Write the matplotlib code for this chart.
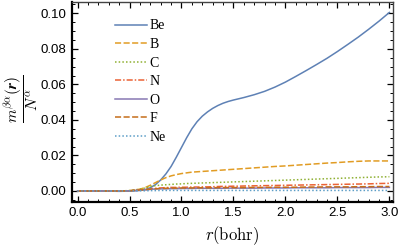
import matplotlib
matplotlib.use("Agg")
import matplotlib.pyplot as plt
from matplotlib.ticker import MultipleLocator, FormatStrFormatter

plt.rcParams["mathtext.fontset"] = "cm"
plt.rcParams["font.family"] = ["Liberation Sans", "DejaVu Sans"]

# radial grid (bohr), denser where Be rises fast
r = [0.0, 0.1, 0.2, 0.3, 0.4, 0.5, 0.6,
     0.65, 0.7, 0.75, 0.8, 0.85, 0.9, 0.95, 1.0, 1.05, 1.1,
     1.15, 1.2, 1.25, 1.3, 1.35, 1.4, 1.45, 1.5, 1.55, 1.6,
     1.7, 1.8, 1.9, 2.0, 2.1, 2.2, 2.3, 2.4, 2.5, 2.6, 2.7, 2.8, 2.9, 3.0]

be = [0.0, 0.0, 0.0, -0.0001, -0.0002, -0.0001, 0.0003,
      0.0008, 0.0018, 0.0036, 0.0062, 0.0096, 0.0138, 0.0190, 0.0245, 0.0300, 0.0350,
      0.0390, 0.0421, 0.0445, 0.0465, 0.0481, 0.0494, 0.0504, 0.0512, 0.0519, 0.0526,
      0.0542, 0.0561, 0.0585, 0.0613, 0.0645, 0.0678, 0.0712, 0.0747, 0.0785, 0.0825, 0.0866, 0.0910, 0.0956, 0.1005]
b = [0.0, 0.0, 0.0, 0.0, 0.0, 0.0002, 0.0010,
     0.0019, 0.0032, 0.0047, 0.0062, 0.0075, 0.0085, 0.0092, 0.0098, 0.0102, 0.0106,
     0.0108, 0.0110, 0.0112, 0.0114, 0.0116, 0.0118, 0.0120, 0.0122, 0.0124, 0.0126,
     0.0130, 0.0134, 0.0138, 0.0141, 0.0145, 0.0149, 0.0153, 0.0157, 0.0160, 0.0164, 0.0167, 0.0169, 0.0169, 0.0169]
c = [0.0, 0.0, 0.0, 0.0, 0.0, 0.0002, 0.0010,
     0.0017, 0.0025, 0.0030, 0.0033, 0.0035, 0.0037, 0.0039, 0.0040, 0.0042, 0.0043,
     0.0044, 0.0045, 0.0046, 0.0047, 0.0048, 0.0049, 0.0050, 0.0051, 0.0052, 0.0053,
     0.0055, 0.0057, 0.0059, 0.0061, 0.0063, 0.0065, 0.0067, 0.0069, 0.0071, 0.0073, 0.0075, 0.0077, 0.0079, 0.0080]
n = [0.0, 0.0, 0.0, 0.0, 0.0, 0.0001, 0.0005,
     0.0008, 0.0012, 0.0015, 0.0017, 0.0019, 0.0020, 0.0020, 0.0021, 0.0021, 0.0022,
     0.0022, 0.0023, 0.0023, 0.0024, 0.0025, 0.0026, 0.0026, 0.0027, 0.0027, 0.0028,
     0.0029, 0.0030, 0.0031, 0.0032, 0.0033, 0.0034, 0.0035, 0.0036, 0.0037, 0.0038, 0.0039, 0.0040, 0.0042, 0.0043]
o = [0.0, 0.0, 0.0, 0.0, 0.0, 0.0001, 0.0004,
     0.0006, 0.0009, 0.0011, 0.0012, 0.0012, 0.0013, 0.0013, 0.0014, 0.0014, 0.0014,
     0.0015, 0.0015, 0.0015, 0.0015, 0.0015, 0.0015, 0.0016, 0.0016, 0.0016, 0.0016,
     0.0016, 0.0017, 0.0017, 0.0017, 0.0018, 0.0018, 0.0018, 0.0018, 0.0019, 0.0019, 0.0019, 0.0019, 0.0020, 0.0020]
f = [0.0, 0.0, 0.0, 0.0, 0.0, 0.0001, 0.0005,
     0.0007, 0.0010, 0.0012, 0.0014, 0.0015, 0.0016, 0.0016, 0.0017, 0.0017, 0.0017,
     0.0018, 0.0018, 0.0018, 0.0018, 0.0019, 0.0019, 0.0019, 0.0019, 0.0019, 0.0019,
     0.0020, 0.0020, 0.0021, 0.0021, 0.0021, 0.0022, 0.0022, 0.0023, 0.0023, 0.0023, 0.0024, 0.0024, 0.0025, 0.0025]
ne = [0.0, 0.0, 0.0, 0.0, 0.0, 0.0, 0.0001,
      0.0001, 0.0002, 0.0002, 0.0003, 0.0003, 0.0003, 0.0003, 0.0003, 0.0003, 0.0003,
      0.0003, 0.0003, 0.0003, 0.0003, 0.0003, 0.0003, 0.0003, 0.0003, 0.0003, 0.0003,
      0.0003, 0.0003, 0.0003, 0.0003, 0.0003, 0.0003, 0.0003, 0.0003, 0.0003, 0.0003, 0.0003, 0.0003, 0.0003, 0.0003]

atoms = ["Be", "B", "C", "N", "O", "F", "Ne"]
series = [be, b, c, n, o, f, ne]
colors = ["#5E81B5", "#E19C24", "#8FB032", "#EB6235", "#8778B3", "#C56E1A", "#5D9EC7"]
styles = ["-", (0, (4, 1.6)), (0, (1, 1.4)), (0, (4, 1.3, 1, 1.3)), "-", (0, (4, 1.6)), (0, (1, 1.4))]

fig = plt.figure(figsize=(3.99, 2.48), dpi=100)
ax = fig.add_axes([0.180, 0.187, 0.805, 0.805])

for name, ys, col, ls in zip(atoms, series, colors, styles):
    ax.plot(r, ys, color=col, linestyle=ls, linewidth=1.1, label=name)

ax.set_xlim(-0.055, 3.035)
ax.set_ylim(-0.006, 0.1064)

ax.xaxis.set_major_locator(MultipleLocator(0.5))
ax.xaxis.set_minor_locator(MultipleLocator(0.1))
ax.yaxis.set_major_locator(MultipleLocator(0.02))
ax.yaxis.set_minor_locator(MultipleLocator(0.005))
ax.xaxis.set_major_formatter(FormatStrFormatter("%.1f"))
ax.yaxis.set_major_formatter(FormatStrFormatter("%.2f"))

ax.tick_params(which="both", direction="in", top=True, right=True,
               labelsize=9.5, pad=4)
ax.tick_params(which="major", length=4, width=0.9)
ax.tick_params(which="minor", length=2, width=0.7)

for side in ["left", "bottom"]:
    ax.spines[side].set_linewidth(1.6)
for side in ["top", "right"]:
    ax.spines[side].set_linewidth(1.0)
    ax.spines[side].set_color("#444444")

ax.set_xlabel(r"$r(\mathrm{bohr})$", fontsize=12, labelpad=4)
# y label placed by hand, the fraction is too wide for the default spot
fig.text(0.053, 0.60, r"$\dfrac{m^{\beta\alpha}(\boldsymbol{r})}{N^{\alpha}}$",
         fontsize=11, rotation=90, ha="center", va="center")

ax.legend(loc="upper left", bbox_to_anchor=(0.095, 0.975), frameon=False,
          prop={"family": "Liberation Serif", "size": 10},
          handlelength=2.3, handletextpad=0.2, labelspacing=0.4)

fig.savefig("out.png", dpi=100)
